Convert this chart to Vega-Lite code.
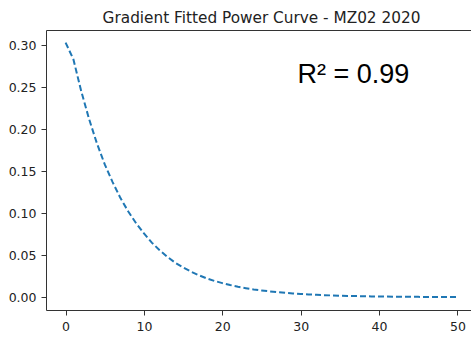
{
  "$schema": "https://vega.github.io/schema/vega-lite/v6.json",
  "autosize": "none",
  "width": 431,
  "height": 280,
  "padding": {"left": 46, "top": 30, "right": 0, "bottom": 29},
  "title": {"text": "Gradient Fitted Power Curve - MZ02 2020", "font": "DejaVu Sans", "fontSize": 15.3, "fontWeight": "normal", "color": "#222", "anchor": "middle", "baseline": "alphabetic", "offset": -8},
  "datasets": {
    "curve": [
      {"x": 0, "y": 0.303}, {"x": 1, "y": 0.283}, {"x": 2, "y": 0.245}, {"x": 3, "y": 0.212},
      {"x": 4, "y": 0.183}, {"x": 5, "y": 0.158}, {"x": 6, "y": 0.137}, {"x": 7, "y": 0.118},
      {"x": 8, "y": 0.102}, {"x": 9, "y": 0.088}, {"x": 10, "y": 0.076}, {"x": 11, "y": 0.065},
      {"x": 12, "y": 0.056}, {"x": 13, "y": 0.048}, {"x": 14, "y": 0.041}, {"x": 15, "y": 0.0355},
      {"x": 16, "y": 0.0305}, {"x": 17, "y": 0.0262}, {"x": 18, "y": 0.0225}, {"x": 19, "y": 0.0194},
      {"x": 20, "y": 0.0168}, {"x": 21, "y": 0.0145}, {"x": 22, "y": 0.0125}, {"x": 23, "y": 0.0108},
      {"x": 24, "y": 0.0093}, {"x": 25, "y": 0.0081}, {"x": 26, "y": 0.007}, {"x": 27, "y": 0.006},
      {"x": 28, "y": 0.0052}, {"x": 29, "y": 0.0045}, {"x": 30, "y": 0.0039}, {"x": 31, "y": 0.0033},
      {"x": 32, "y": 0.0029}, {"x": 33, "y": 0.0025}, {"x": 34, "y": 0.0021}, {"x": 35, "y": 0.0018},
      {"x": 36, "y": 0.0016}, {"x": 37, "y": 0.0014}, {"x": 38, "y": 0.0012}, {"x": 39, "y": 0.001},
      {"x": 40, "y": 0.0009}, {"x": 41, "y": 0.00076}, {"x": 42, "y": 0.00065}, {"x": 43, "y": 0.00056},
      {"x": 44, "y": 0.00048}, {"x": 45, "y": 0.00042}, {"x": 46, "y": 0.00036}, {"x": 47, "y": 0.00031},
      {"x": 48, "y": 0.00027}, {"x": 49, "y": 0.00023}, {"x": 50, "y": 0.0002}
    ],
    "note": [{"x": 29.6, "y": 0.2554, "label": "R² = 0.99"}]
  },
  "layer": [
    {
      "data": {"name": "curve"},
      "mark": {"type": "line", "color": "#1f77b4", "strokeWidth": 2, "strokeDash": [6, 3]},
      "encoding": {
        "x": {"field": "x", "type": "quantitative", "scale": {"domain": [-2.5, 52.5], "nice": false, "zero": false},
              "axis": {"title": null, "values": [0, 10, 20, 30, 40, 50], "labelPadding": 5}},
        "y": {"field": "y", "type": "quantitative", "scale": {"domain": [-0.0152, 0.318], "nice": false, "zero": false},
              "axis": {"title": null, "values": [0, 0.05, 0.1, 0.15, 0.2, 0.25, 0.3], "format": ".2f", "labelPadding": 5}}
      }
    },
    {
      "data": {"name": "note"},
      "mark": {"type": "text", "font": "Liberation Sans", "fontSize": 27, "align": "left", "baseline": "alphabetic", "color": "#000"},
      "encoding": {
        "x": {"field": "x", "type": "quantitative"},
        "y": {"field": "y", "type": "quantitative"},
        "text": {"field": "label"}
      }
    }
  ],
  "config": {
    "view": {"stroke": "#333", "strokeWidth": 1},
    "axis": {"grid": false, "domain": false, "tickColor": "#333", "tickSize": 5, "labelFont": "DejaVu Sans", "labelFontSize": 12.5, "labelColor": "#222"}
  }
}
